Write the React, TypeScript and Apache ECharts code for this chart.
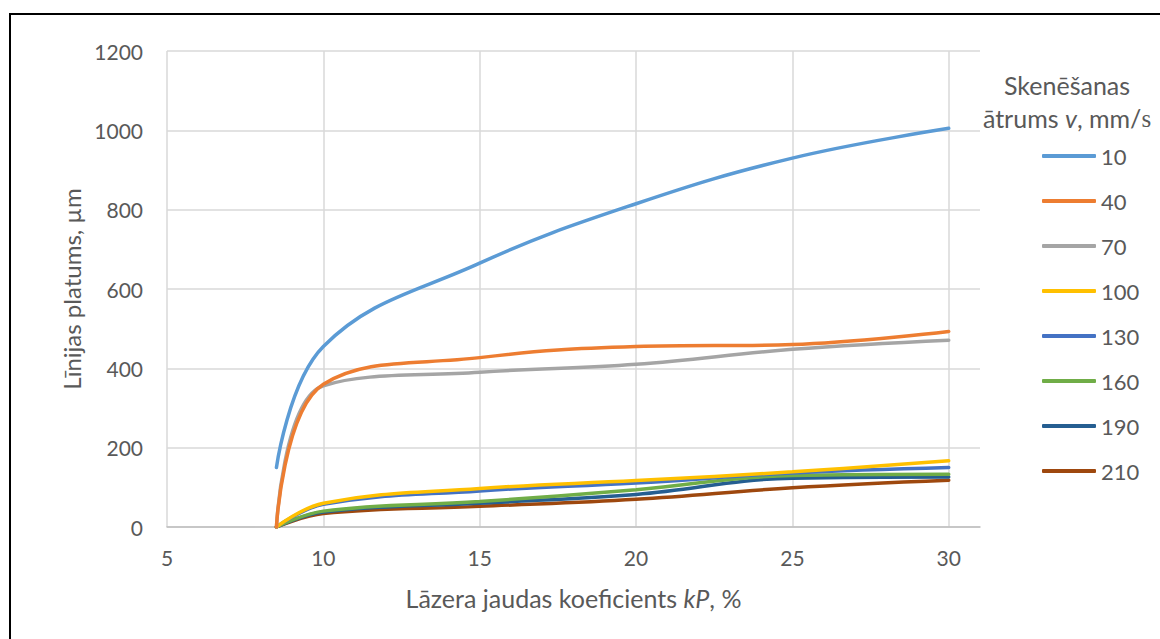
import React, { useEffect, useRef } from "react";
import * as echarts from "echarts";

const xValues = [8.5, 10, 15, 20, 25, 30];
const seriesNames = ["10", "40", "70", "100", "130", "160", "190", "210"];
const s10 = [150, 455, 665, 815, 930, 1005];
const s40 = [0, 360, 427, 455, 460, 493];
const s70 = [0, 356, 390, 410, 448, 471];
const s100 = [0, 60, 97, 117, 139, 167];
const s130 = [0, 57, 91, 111, 136, 150];
const s160 = [0, 40, 64, 94, 130, 133];
const s190 = [0, 38, 60, 82, 123, 126];
const s210 = [0, 34, 52, 70, 99, 118];
const seriesValues = [s10, s40, s70, s100, s130, s160, s190, s210];
const colors = ["#5B9BD5", "#ED7D31", "#A5A5A5", "#FFC000", "#4472C4", "#70AD47", "#255E91", "#9E480E"];

const FONT = "Lato, 'Noto Sans', sans-serif";
const TEXT = "#595959";

export default function App() {
  const ref = useRef<HTMLDivElement>(null);
  useEffect(() => {
    document.body.style.margin = "0";
    if (!ref.current) return;
    const chart = echarts.init(ref.current, undefined, { renderer: "svg" });
    const series = seriesNames.map((name, i) => ({
      name,
      type: "line",
      data: xValues.map((x, j) => [x, seriesValues[i][j]]),
      smooth: 0.4,
      showSymbol: false,
      symbol: "none",
      lineStyle: { color: colors[i], width: 3.5, cap: "round" },
      itemStyle: { color: colors[i] },
      z: 10 - i,
    }));
    chart.setOption({
      animation: false,
      backgroundColor: "#ffffff",
      textStyle: { fontFamily: FONT },
      grid: { left: 167, top: 51, right: 180, bottom: 112, containLabel: false },
      xAxis: {
        type: "value",
        min: 5,
        max: 31,
        interval: 5,
        name: "Lāzera jaudas koeficients {i|kP}, %",
        nameLocation: "middle",
        nameGap: 58,
        nameTextStyle: {
          color: TEXT,
          fontSize: 25,
          fontFamily: FONT,
          rich: { i: { fontStyle: "italic", color: TEXT, fontSize: 25, fontFamily: FONT } },
        },
        axisLine: { show: true, lineStyle: { color: "#BFBFBF", width: 1.5 } },
        axisTick: { show: false },
        axisLabel: { color: TEXT, fontSize: 21, margin: 20, showMaxLabel: false, fontFamily: FONT },
        splitLine: { show: true, showMaxLine: false, lineStyle: { color: "#D9D9D9", width: 1.5 } },
      },
      yAxis: {
        type: "value",
        min: 0,
        max: 1200,
        interval: 200,
        name: "Līnijas platums, µm",
        nameLocation: "middle",
        nameGap: 80,
        nameTextStyle: { color: TEXT, fontSize: 24, fontFamily: FONT },
        axisLine: { show: false },
        axisTick: { show: false },
        axisLabel: {
          color: TEXT,
          fontSize: 21,
          margin: 24,
          fontFamily: FONT,
          formatter: (v: number) => String(v),
        },
        splitLine: { show: true, lineStyle: { color: "#D9D9D9", width: 1.5 } },
      },
      legend: {
        data: seriesNames,
        orient: "vertical",
        left: 1037,
        top: 140,
        itemWidth: 54,
        itemHeight: 4,
        itemGap: 23,
        icon: "roundRect",
        textStyle: { color: TEXT, fontSize: 22, lineHeight: 21, fontFamily: FONT },
      },
      graphic: [
        {
          type: "rect",
          shape: { x: 10, y: 14, width: 1300, height: 800 },
          style: { fill: "none", stroke: "#000000", lineWidth: 2 },
          silent: true,
        },
        {
          type: "text",
          x: 1067,
          y: 85,
          style: {
            text: "Skenēšanas",
            align: "center",
            verticalAlign: "middle",
            fill: TEXT,
            fontSize: 25,
            fontFamily: FONT,
          },
        },
        {
          type: "text",
          x: 1067,
          y: 118,
          style: {
            text: "ātrums {i|v}, mm/{s|s}",
            align: "center",
            verticalAlign: "middle",
            fill: TEXT,
            fontSize: 25,
            fontFamily: FONT,
            rich: {
              i: { fontStyle: "italic", fill: TEXT, fontSize: 25, fontFamily: FONT },
              s: { fill: TEXT, fontSize: 25, fontFamily: "'Liberation Serif', serif" },
            },
          },
        },
      ],
      series,
    });
    return () => chart.dispose();
  }, []);
  return <div ref={ref} style={{ width: 1160, height: 639 }} />;
}
